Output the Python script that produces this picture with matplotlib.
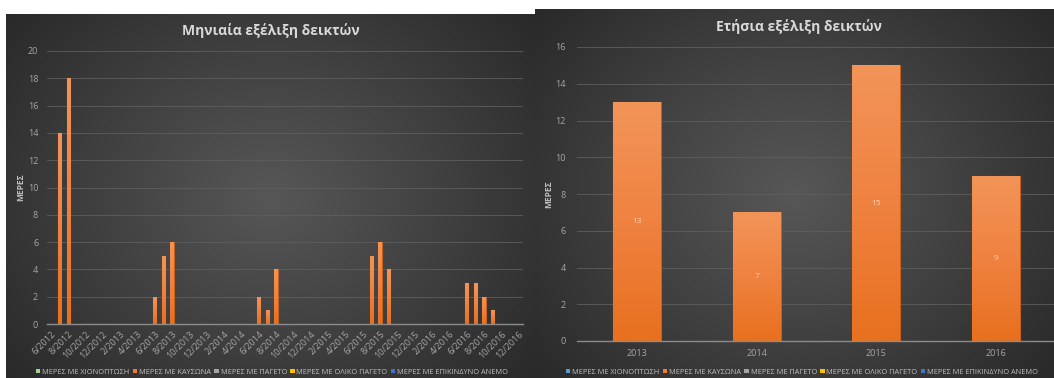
import numpy as np
import matplotlib
matplotlib.use("Agg")
import matplotlib.pyplot as plt
from matplotlib.patches import Patch
from matplotlib.colors import LinearSegmentedColormap

plt.rcParams['font.family'] = ['Open Sans', 'DejaVu Sans']

# ---------------- data ----------------
monthly_title = "Μηνιαία εξέλιξη δεικτών"
yearly_title = "Ετήσια εξέλιξη δεικτών"
y_label = "ΜΕΡΕΣ"

series_names = ["ΜΕΡΕΣ ΜΕ ΧΙΟΝΟΠΤΩΣΗ", "ΜΕΡΕΣ ΜΕ ΚΑΥΣΩΝΑ", "ΜΕΡΕΣ ΜΕ ΠΑΓΕΤΟ",
                "ΜΕΡΕΣ ΜΕ ΟΛΙΚΟ ΠΑΓΕΤΟ", "ΜΕΡΕΣ ΜΕ ΕΠΙΚΙΝΔΥΝΟ ΑΝΕΜΟ"]
left_legend_colors = ["#a9d18e", "#ed7d31", "#a5a5a5", "#ffc000", "#4472c4"]
right_legend_colors = ["#5b9bd5", "#ed7d31", "#a5a5a5", "#ffc000", "#4472c4"]

# months 6/2012 .. 12/2016
months = [f"{m}/{y}" for y in range(2012, 2017) for m in range(1, 13)
          if (y, m) >= (2012, 6)]
# heatwave days per month (other series are all zero)
heatwave_monthly = [0, 14, 18, 0, 0, 0, 0, 0, 0, 0, 0, 0,   # 6/2012-5/2013
                    2, 5, 6, 0, 0, 0, 0, 0, 0, 0, 0, 0,     # 6/2013-5/2014
                    2, 1, 4, 0, 0, 0, 0, 0, 0, 0, 0, 0,     # 6/2014-5/2015
                    0, 5, 6, 4, 0, 0, 0, 0, 0, 0, 0, 0,     # 6/2015-5/2016
                    3, 3, 2, 1, 0, 0, 0]                    # 6/2016-12/2016

years = ["2013", "2014", "2015", "2016"]
heatwave_yearly = [13, 7, 15, 9]

# ---------------- figure ----------------
W, H = 1054, 378
fig = plt.figure(figsize=(W / 100, H / 100), dpi=100, facecolor="white")


def px_axes(x0, y0, x1, y1, **kw):
    return fig.add_axes([x0 / W, 1 - y1 / H, (x1 - x0) / W, (y1 - y0) / H], **kw)


def radial_bg(x0, y0, x1, y1):
    bg = px_axes(x0, y0, x1, y1)
    bg.set_axis_off()
    nx, ny = 300, 200
    xx, yy = np.meshgrid(np.linspace(-1, 1, nx), np.linspace(-1, 1, ny))
    r = np.clip(np.sqrt((xx * 0.9) ** 2 + (yy * 0.75) ** 2) / 1.2, 0, 1)
    cmap = LinearSegmentedColormap.from_list("bg", ["#575757", "#404040", "#282828"])
    bg.imshow(r, cmap=cmap, aspect="auto", extent=(0, 1, 0, 1), vmin=0, vmax=1)
    bg.set_xlim(0, 1)
    bg.set_ylim(0, 1)
    return bg


bar_cmap = LinearSegmentedColormap.from_list("bar", ["#e8701f", "#ef8240", "#f29458"])


def gradient_bars(ax, x, heights, width, edge):
    bars = ax.bar(x, heights, width=width, color="#ed7d31", edgecolor=edge,
                  linewidth=0.8, zorder=3)
    grad = np.linspace(0, 1, 100).reshape(-1, 1)
    for b in bars:
        h = b.get_height()
        if h <= 0:
            continue
        im = ax.imshow(grad, cmap=bar_cmap, origin="lower", aspect="auto",
                       extent=(b.get_x(), b.get_x() + b.get_width(), 0, h),
                       zorder=3.5)
        im.set_clip_path(b)
    return bars


def style_axes(ax, ymax, step):
    ax.set_facecolor("none")
    ax.set_ylim(0, ymax)
    ax.set_yticks(np.arange(0, ymax + 0.1, step))
    ax.yaxis.grid(True, color="#5e5e5e", linewidth=0.6, zorder=0)
    ax.set_axisbelow(True)
    for s in ["top", "right", "left"]:
        ax.spines[s].set_visible(False)
    ax.spines["bottom"].set_color("#8c8c8c")
    ax.spines["bottom"].set_linewidth(1.0)
    ax.spines["bottom"].set_zorder(5)
    ax.tick_params(axis="both", length=0, colors="#a6a6a6", labelsize=6.5)
    ax.set_ylabel(y_label, color="#bfbfbf", fontsize=6, fontweight="bold")


# ---- left panel ----
radial_bg(6, 14, 535, 378)
axL = px_axes(46.5, 51, 523, 324)
xL = np.arange(len(months))
gradient_bars(axL, xL, heatwave_monthly, 0.38, "#c8601c")
style_axes(axL, 20, 2)
axL.set_xlim(-0.5, len(months) - 0.5)
axL.set_xticks(xL[::2])
axL.set_xticklabels(months[::2], rotation=45, ha="right", rotation_mode="anchor")
axL.tick_params(axis="x", pad=4)
axL.tick_params(axis="y", pad=6)
axL.yaxis.set_label_coords(-0.045, 0.5)
fig.text(271 / W, 1 - 31 / H, monthly_title, ha="center", va="center",
         color="#d9d9d9", fontsize=10, fontweight="bold")

# ---- right panel ----
radial_bg(535, 9, 1054, 378)
axR = px_axes(577, 47, 1056, 341)
xR = np.arange(len(years))
gradient_bars(axR, xR, heatwave_yearly, 0.4, "#c8601c")
style_axes(axR, 16, 2)
axR.set_xlim(-0.5, len(years) - 0.5)
axR.set_xticks(xR)
axR.set_xticklabels(years)
axR.tick_params(axis="x", pad=6)
axR.tick_params(axis="y", pad=8)
axR.yaxis.set_label_coords(-0.05, 0.5)
for xi, v in zip(xR, heatwave_yearly):
    axR.text(xi, v / 2, str(v), ha="center", va="center", color="#fbd5bb",
             fontsize=6, zorder=6)
fig.text(799 / W, 1 - 27 / H, yearly_title, ha="center", va="center",
         color="#d9d9d9", fontsize=10, fontweight="bold")

# ---- legends ----
def add_legend(cx, cy, colors):
    handles = [Patch(facecolor=c, edgecolor="none") for c in colors]
    leg = fig.legend(handles, series_names, loc="center",
                     bbox_to_anchor=(cx / W, 1 - cy / H), ncol=5, frameon=False,
                     fontsize=5.3, handlelength=0.6, handleheight=0.6,
                     handletextpad=0.25, columnspacing=0.45, borderpad=0)
    for t in leg.get_texts():
        t.set_color("#bfbfbf")
    return leg


add_legend(272, 372, left_legend_colors)
add_legend(802, 372, right_legend_colors)

fig.savefig("out.png", dpi=100, facecolor="white")
